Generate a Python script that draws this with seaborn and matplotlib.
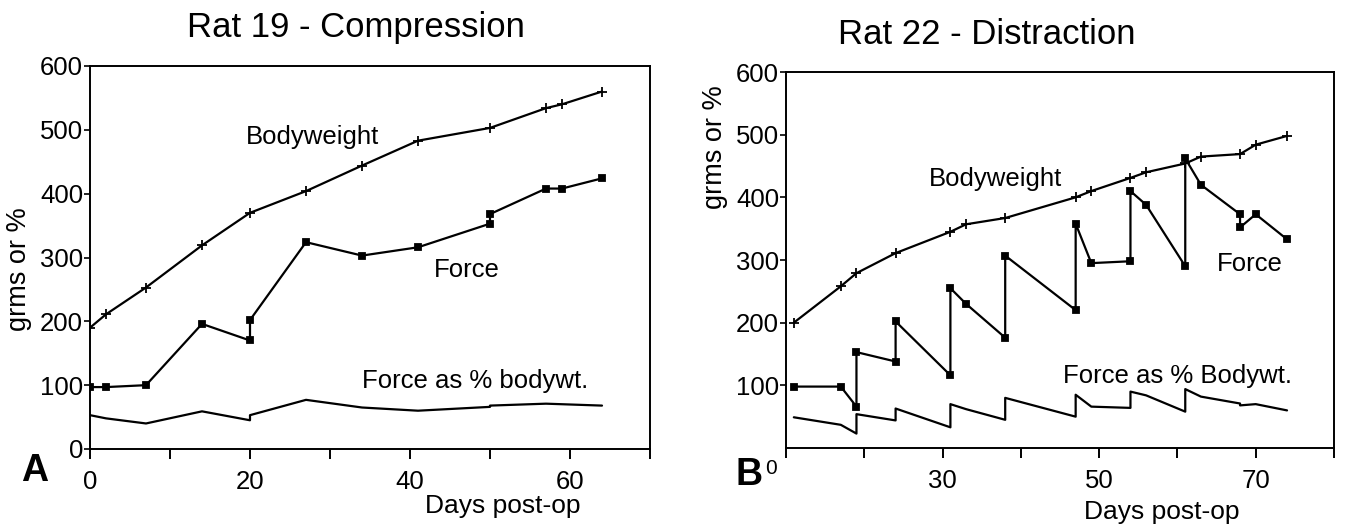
import matplotlib
matplotlib.use("Agg")
import matplotlib.pyplot as plt
import seaborn as sns
import pandas as pd

# -----------------------------
# Rat 19 - Compression (panel A)
# -----------------------------
a_bw_days = [0, 2, 7, 14, 20, 27, 34, 41, 50, 57, 59, 64]
a_bw = [190, 211, 253, 319, 370, 404, 444, 483, 503, 534, 540, 560]

a_force_days = [0, 2, 7, 14, 20, 20, 27, 34, 41, 50, 50, 57, 59, 64]
a_force = [97, 97, 100, 196, 170, 202, 324, 303, 316, 353, 368, 408, 408, 424]

a_pct_days = [0, 2, 7, 14, 20, 20, 27, 34, 41, 50, 50, 57, 64]
a_pct = [53, 48, 40, 59, 45, 53, 77, 65, 60, 66, 68, 71, 68]

# -----------------------------
# Rat 22 - Distraction (panel B)
# -----------------------------
b_bw_days = [11, 17, 19, 24, 31, 33, 38, 47, 49, 54, 56, 61, 63, 68, 70, 74]
b_bw = [200, 258, 279, 311, 345, 357, 367, 400, 410, 431, 440, 454, 465, 469, 484, 498]

b_force_days = [11, 17, 19, 19, 24, 24, 31, 31, 33, 38, 38, 47, 47, 49,
                54, 54, 56, 61, 61, 63, 68, 68, 70, 74]
b_force = [98, 98, 66, 153, 138, 202, 116, 255, 230, 176, 307, 220, 358, 295,
           298, 410, 388, 290, 462, 420, 373, 352, 373, 333]

b_pct_days = [11, 17, 19, 19, 24, 24, 31, 31, 33, 38, 38, 47, 47, 49,
              54, 54, 56, 61, 61, 63, 68, 68, 70, 74]
b_pct = [49, 37, 23, 54, 44, 63, 33, 70, 62, 45, 80, 50, 85, 66,
         64, 90, 84, 58, 94, 82, 71, 68, 70, 60]

sns.set_style("ticks")
plt.rcParams["font.family"] = ["Liberation Sans", "DejaVu Sans"]
plt.rcParams["text.color"] = "black"
plt.rcParams["axes.labelcolor"] = "black"
plt.rcParams["xtick.color"] = "black"
plt.rcParams["ytick.color"] = "black"

fig = plt.figure(figsize=(13.45, 5.28), dpi=100)
ax_a = fig.add_axes([90 / 1345, 79 / 528, 560 / 1345, 383 / 528])
ax_b = fig.add_axes([786 / 1345, 80 / 528, 548 / 1345, 376 / 528])


def draw_series(ax, days, values, marker, ms):
    df = pd.DataFrame({"day": days, "val": values})
    sns.lineplot(
        data=df, x="day", y="val", ax=ax, sort=False, estimator=None,
        color="black", linewidth=1.6, marker=marker, markersize=ms,
        markeredgecolor="black", markerfacecolor="black", markeredgewidth=1.3,
    )


def style_axes(ax):
    for side in ["left", "right", "top", "bottom"]:
        ax.spines[side].set_visible(True)
        ax.spines[side].set_linewidth(1.4)
        ax.spines[side].set_color("black")
    ax.tick_params(axis="y", direction="out", length=4, width=1.2,
                   pad=1, labelsize=18.5, colors="black")
    ax.tick_params(axis="x", direction="out", length=7, width=1.4,
                   pad=8, labelsize=18.5, colors="black")
    ax.set_xlabel("")
    ax.set_ylabel("")


# Panel A
draw_series(ax_a, a_bw_days, a_bw, "+", 7)
draw_series(ax_a, a_force_days, a_force, "s", 5)
draw_series(ax_a, a_pct_days, a_pct, None, 0)
ax_a.set_xlim(0, 70)
ax_a.set_ylim(0, 600)
ax_a.set_xticks(range(0, 71, 10))
ax_a.set_xticklabels(["0", "", "20", "", "40", "", "60", ""])
ax_a.set_yticks(range(0, 601, 100))
style_axes(ax_a)
ax_a.set_ylabel("grms or %", fontsize=19.5, color="black")
ax_a.yaxis.set_label_coords(-0.103, 0.47)
ax_a.text(0.737, -0.15, "Days post-op", transform=ax_a.transAxes,
          ha="center", va="center", fontsize=19)
ax_a.text(19.5, 489, "Bodyweight", fontsize=18.5, va="center")
ax_a.text(43, 280, "Force", fontsize=18.5, va="center")
ax_a.text(34, 107, "Force as % bodywt.", fontsize=18.5, va="center")
fig.text(356 / 1345, 1 - 27 / 528, "Rat 19 - Compression",
         ha="center", va="center", fontsize=25)
fig.text(21 / 1345, 1 - 471 / 528, "A", ha="left", va="center",
         fontsize=27, fontweight="bold")

# Panel B
draw_series(ax_b, b_bw_days, b_bw, "+", 7)
draw_series(ax_b, b_force_days, b_force, "s", 5)
draw_series(ax_b, b_pct_days, b_pct, None, 0)
ax_b.set_xlim(10, 80)
ax_b.set_ylim(0, 600)
ax_b.set_xticks(range(10, 81, 10))
ax_b.set_xticklabels(["", "", "30", "", "50", "", "70", ""])
ax_b.set_yticks(range(100, 601, 100))
style_axes(ax_b)
ax_b.set_ylabel("grms or %", fontsize=19.5, color="black")
ax_b.yaxis.set_label_coords(-0.105, 0.8)
ax_b.text(0.686, -0.17, "Days post-op", transform=ax_b.transAxes,
          ha="center", va="center", fontsize=19)
ax_b.text(28.2, 429, "Bodyweight", fontsize=18.5, va="center")
ax_b.text(65, 294, "Force", fontsize=18.5, va="center")
ax_b.text(45.4, 115, "Force as % Bodywt.", fontsize=18.5, va="center")
fig.text(987 / 1345, 1 - 34 / 528, "Rat 22 - Distraction",
         ha="center", va="center", fontsize=25)
fig.text(736 / 1345, 1 - 475 / 528, "B", ha="left", va="center",
         fontsize=27, fontweight="bold")
fig.text(771 / 1345, 1 - 469 / 528, "0", ha="center", va="center",
         fontsize=15)

fig.savefig("out.png", dpi=100, facecolor="white")
plt.close(fig)
